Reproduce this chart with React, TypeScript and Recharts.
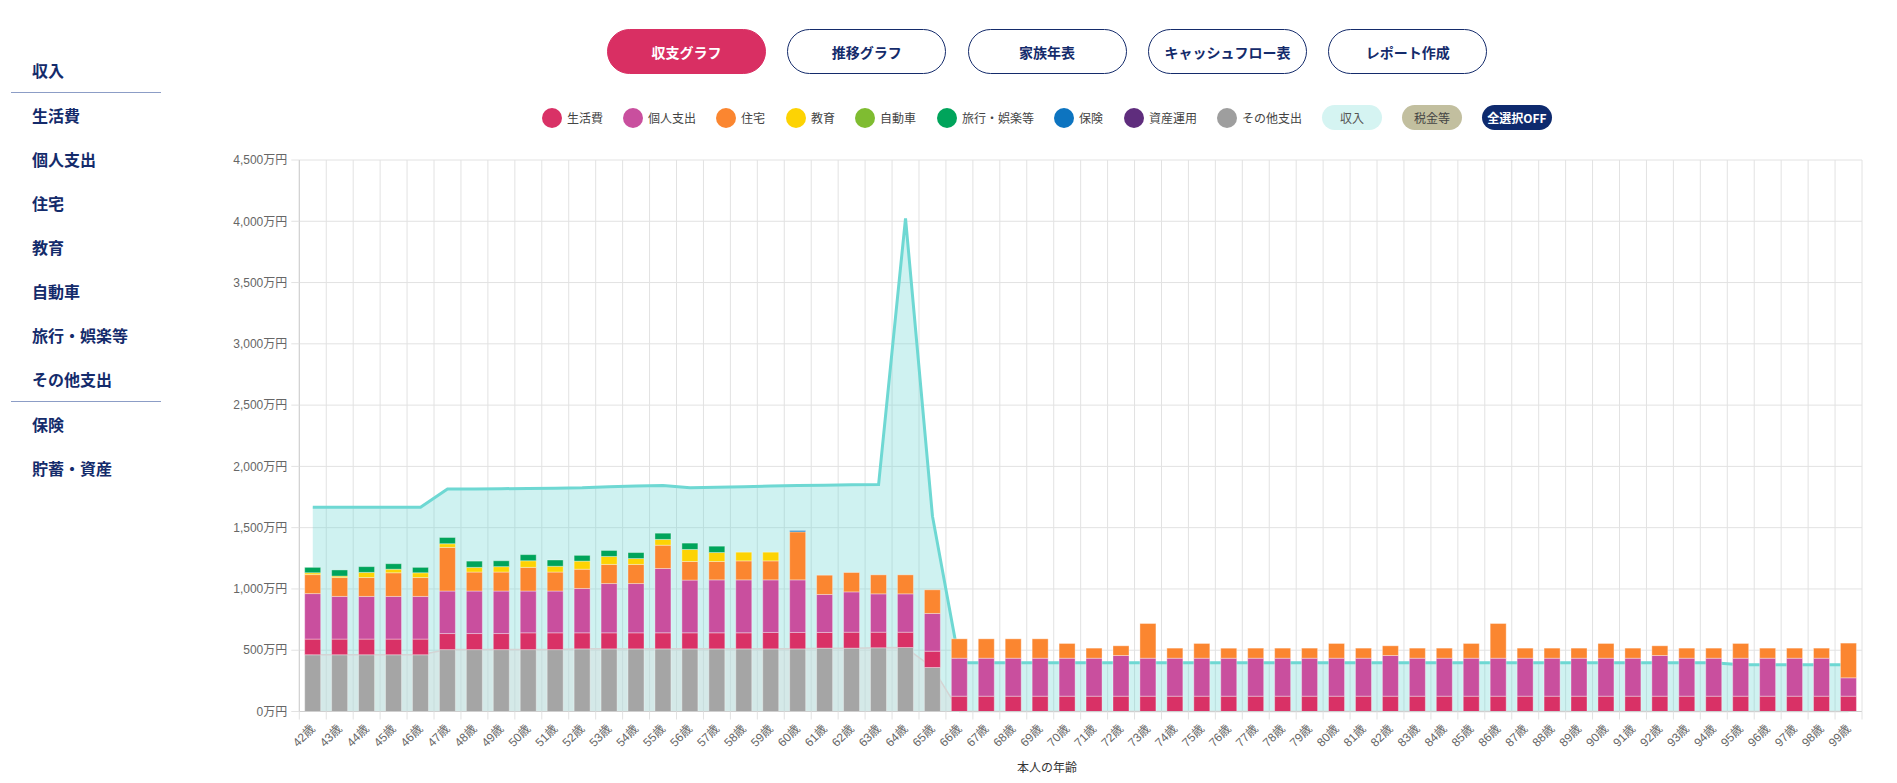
import React from "react";
import { ComposedChart, Bar, Area, XAxis, YAxis, CartesianGrid } from "recharts";

const ages = [
  "42歳", "43歳", "44歳", "45歳", "46歳", "47歳", "48歳", "49歳", "50歳", "51歳",
  "52歳", "53歳", "54歳", "55歳", "56歳", "57歳", "58歳", "59歳", "60歳", "61歳",
  "62歳", "63歳", "64歳", "65歳", "66歳", "67歳", "68歳", "69歳", "70歳", "71歳",
  "72歳", "73歳", "74歳", "75歳", "76歳", "77歳", "78歳", "79歳", "80歳", "81歳",
  "82歳", "83歳", "84歳", "85歳", "86歳", "87歳", "88歳", "89歳", "90歳", "91歳",
  "92歳", "93歳", "94歳", "95歳", "96歳", "97歳", "98歳", "99歳",
];

// 万円
const otherCost = [
  463, 463, 463, 463, 463, 505, 505, 505, 505, 505,
  511, 511, 511, 511, 511, 511, 511, 511, 511, 517,
  517, 520, 522, 359, 0, 0, 0, 0, 0, 0,
  0, 0, 0, 0, 0, 0, 0, 0, 0, 0,
  0, 0, 0, 0, 0, 0, 0, 0, 0, 0,
  0, 0, 0, 0, 0, 0, 0, 0,
];
const living = [
  128, 128, 128, 128, 128, 131, 131, 131, 137, 137,
  131, 131, 131, 131, 131, 131, 131, 134, 134, 128,
  130, 127, 125, 133, 125, 125, 125, 125, 125, 125,
  125, 125, 125, 125, 125, 125, 125, 125, 125, 125,
  125, 125, 125, 125, 125, 125, 125, 125, 125, 125,
  125, 125, 125, 125, 125, 125, 125, 125,
];
const personal = [
  371, 348, 348, 348, 348, 347, 347, 347, 341, 341,
  362, 402, 402, 525, 430, 432, 432, 429, 429, 310,
  329, 313, 313, 308, 310, 310, 310, 310, 310, 310,
  332, 310, 310, 310, 310, 310, 310, 310, 310, 310,
  332, 310, 310, 310, 310, 310, 310, 310, 310, 310,
  332, 310, 310, 310, 310, 310, 310, 150,
];
const housing = [
  155, 154, 154, 193, 154, 356, 155, 155, 193, 155,
  157, 156, 156, 190, 152, 150, 155, 155, 392, 157,
  158, 155, 155, 193, 158, 158, 158, 158, 120, 82,
  79, 283, 82, 120, 82, 82, 82, 82, 120, 82,
  79, 82, 82, 120, 283, 82, 82, 82, 120, 82,
  79, 82, 82, 120, 82, 82, 82, 283,
];
const education = [
  15, 12, 42, 29, 39, 30, 38, 44, 54, 47,
  66, 65, 48, 47, 98, 73, 71, 71, 0, 0,
  0, 0, 0, 0, 0, 0, 0, 0, 0, 0,
  0, 0, 0, 0, 0, 0, 0, 0, 0, 0,
  0, 0, 0, 0, 0, 0, 0, 0, 0, 0,
  0, 0, 0, 0, 0, 0, 0, 0,
];
const car = [
  0, 0, 0, 0, 0, 0, 0, 0, 0, 0,
  0, 0, 0, 0, 0, 0, 0, 0, 0, 0,
  0, 0, 0, 0, 0, 0, 0, 0, 0, 0,
  0, 0, 0, 0, 0, 0, 0, 0, 0, 0,
  0, 0, 0, 0, 0, 0, 0, 0, 0, 0,
  0, 0, 0, 0, 0, 0, 0, 0,
];
const travel = [
  44, 50, 47, 45, 44, 51, 51, 48, 50, 51,
  47, 49, 49, 51, 52, 52, 0, 0, 0, 0,
  0, 0, 0, 0, 0, 0, 0, 0, 0, 0,
  0, 0, 0, 0, 0, 0, 0, 0, 0, 0,
  0, 0, 0, 0, 0, 0, 0, 0, 0, 0,
  0, 0, 0, 0, 0, 0, 0, 0,
];
const insurance = [
  0, 0, 0, 0, 0, 0, 0, 0, 0, 0,
  0, 0, 0, 0, 0, 0, 0, 0, 11, 0,
  0, 0, 0, 0, 0, 0, 0, 0, 0, 0,
  0, 0, 0, 0, 0, 0, 0, 0, 0, 0,
  0, 0, 0, 0, 0, 0, 0, 0, 0, 0,
  0, 0, 0, 0, 0, 0, 0, 0,
];
const investment = [
  0, 0, 0, 0, 0, 0, 0, 0, 0, 0,
  0, 0, 0, 0, 0, 0, 0, 0, 0, 0,
  0, 0, 0, 0, 0, 0, 0, 0, 0, 0,
  0, 0, 0, 0, 0, 0, 0, 0, 0, 0,
  0, 0, 0, 0, 0, 0, 0, 0, 0, 0,
  0, 0, 0, 0, 0, 0, 0, 0,
];
const income = [
  1666, 1666, 1666, 1666, 1666, 1815, 1815, 1818, 1820, 1822,
  1825, 1833, 1839, 1844, 1825, 1830, 1833, 1839, 1844, 1847,
  1850, 1852, 4024, 1594, 397, 397, 397, 397, 397, 397,
  397, 397, 397, 397, 397, 397, 397, 397, 397, 397,
  397, 397, 397, 397, 397, 397, 397, 397, 397, 397,
  397, 397, 397, 381, 381, 381, 381, 381,
];
const tax = [
  463, 463, 463, 463, 463, 505, 505, 505, 505, 505,
  511, 511, 511, 511, 511, 511, 511, 511, 511, 517,
  517, 520, 522, 359, 0, 0, 0, 0, 0, 0,
  0, 0, 0, 0, 0, 0, 0, 0, 0, 0,
  0, 0, 0, 0, 0, 0, 0, 0, 0, 0,
  0, 0, 0, 0, 0, 0, 0, 0,
];

const yTicks = [0, 500, 1000, 1500, 2000, 2500, 3000, 3500, 4000, 4500];

const sideTop = ["収入"];
const sideMiddle = ["生活費", "個人支出", "住宅", "教育", "自動車", "旅行・娯楽等", "その他支出"];
const sideBottom = ["保険", "貯蓄・資産"];

const tabs = ["収支グラフ", "推移グラフ", "家族年表", "キャッシュフロー表", "レポート作成"];

const legendItems = [
  { name: "生活費", color: "#d93166", left: 542 },
  { name: "個人支出", color: "#c94f9e", left: 623 },
  { name: "住宅", color: "#fb8630", left: 716 },
  { name: "教育", color: "#fdd303", left: 786 },
  { name: "自動車", color: "#7fbc31", left: 855 },
  { name: "旅行・娯楽等", color: "#00a45b", left: 937 },
  { name: "保険", color: "#0d74c0", left: 1054 },
  { name: "資産運用", color: "#5f2d7d", left: 1124 },
  { name: "その他支出", color: "#9e9e9e", left: 1217 },
];

const data = ages.map((age, i) => ({
  age,
  otherCost: otherCost[i],
  living: living[i],
  personal: personal[i],
  housing: housing[i],
  education: education[i],
  car: car[i],
  travel: travel[i],
  insurance: insurance[i],
  investment: investment[i],
  income: income[i],
  tax: tax[i],
}));

const CHART_W = 1680;
const CHART_H = 643;
const MARGIN = { top: 20, right: 18, bottom: 16.5, left: 19.3 };
const Y_W = 80;
const X_H = 55;
const band = (CHART_W - MARGIN.left - MARGIN.right - Y_W) / ages.length;

const FONT = '"Liberation Sans", Arial, "Noto Sans CJK JP", sans-serif';
const JP = '"Noto Sans CJK JP", "Noto Sans", sans-serif';
const NAVY = "#142b6b";
const GRID = "#e2e2e2";

function AgeTick(props: any) {
  const { x, y, payload, index } = props;
  const bx = x - band / 2;
  const tx = x + 3;
  const ty = y + 18;
  return (
    <g>
      <line x1={bx} x2={bx} y1={y} y2={y + 8} stroke={GRID} />
      {index === ages.length - 1 && (
        <line x1={x + band / 2} x2={x + band / 2} y1={y} y2={y + 8} stroke={GRID} />
      )}
      <text
        x={tx}
        y={ty}
        transform={`rotate(-45 ${tx} ${ty})`}
        textAnchor="end"
        fontSize={12}
        fill="#666"
        fontFamily={FONT}
      >
        {payload.value}
      </text>
    </g>
  );
}

const segments = [
  { key: "otherCost", color: "#a5a5a5" },
  { key: "living", color: "#d93166" },
  { key: "personal", color: "#c94f9e" },
  { key: "housing", color: "#fb8630" },
  { key: "education", color: "#fdd303" },
  { key: "car", color: "#7fbc31" },
  { key: "travel", color: "#00a45b" },
  { key: "insurance", color: "#0d74c0" },
  { key: "investment", color: "#5f2d7d" },
];

function SideItem({ label }: { label: string }) {
  return (
    <div
      style={{
        height: 44,
        lineHeight: "44px",
        paddingLeft: 21,
        fontSize: 16,
        fontWeight: 700,
        color: NAVY,
        fontFamily: JP,
      }}
    >
      {label}
    </div>
  );
}

const Divider = () => <div style={{ height: 1, width: 150, background: "#8c9dc6" }} />;

export default function App() {
  return (
    <div
      style={{
        position: "absolute",
        left: 0,
        top: 0,
        width: 1897,
        height: 783,
        overflow: "hidden",
        background: "#fff",
        fontFamily: JP,
      }}
    >
      {/* side menu */}
      <div style={{ position: "absolute", left: 11, top: 48, width: 150 }}>
        {sideTop.map((s) => (
          <SideItem key={s} label={s} />
        ))}
        <Divider />
        {sideMiddle.map((s) => (
          <SideItem key={s} label={s} />
        ))}
        <Divider />
        {sideBottom.map((s) => (
          <SideItem key={s} label={s} />
        ))}
      </div>

      {/* tabs */}
      {tabs.map((t, i) => (
        <div
          key={t}
          style={{
            position: "absolute",
            left: 607 + i * 180.3,
            top: 29,
            width: 159,
            height: 45,
            boxSizing: "border-box",
            borderRadius: 23,
            border: i === 0 ? "1.5px solid #d92f63" : `1.5px solid ${NAVY}`,
            background: i === 0 ? "#d92f63" : "#fff",
            color: i === 0 ? "#fff" : NAVY,
            fontSize: 14,
            fontWeight: 700,
            display: "flex",
            alignItems: "center",
            justifyContent: "center",
          }}
        >
          {t}
        </div>
      ))}

      {/* legend */}
      {legendItems.map((l) => (
        <div
          key={l.name}
          style={{
            position: "absolute",
            left: l.left,
            top: 107.7,
            height: 20,
            display: "flex",
            alignItems: "center",
            fontSize: 12,
            color: "#444",
            whiteSpace: "nowrap",
          }}
        >
          <span
            style={{
              width: 20,
              height: 20,
              borderRadius: 10,
              background: l.color,
              marginRight: 5,
              display: "inline-block",
            }}
          />
          {l.name}
        </div>
      ))}
      {[
        { label: "収入", left: 1322, width: 60, bg: "#d5f4f2", color: "#555", bold: false },
        { label: "税金等", left: 1402, width: 60, bg: "#c2bf9f", color: "#444", bold: false },
        { label: "全選択OFF", left: 1482, width: 70, bg: "#0e2a6e", color: "#fff", bold: true },
      ].map((p) => (
        <div
          key={p.label}
          style={{
            position: "absolute",
            left: p.left,
            top: 105,
            width: p.width,
            height: 25,
            borderRadius: 12.5,
            background: p.bg,
            color: p.color,
            fontSize: 12,
            fontWeight: p.bold ? 700 : 400,
            display: "flex",
            alignItems: "center",
            justifyContent: "center",
            whiteSpace: "nowrap",
          }}
        >
          {p.label}
        </div>
      ))}

      {/* chart */}
      <div style={{ position: "absolute", left: 200, top: 140, width: CHART_W, height: CHART_H }}>
        <ComposedChart
          width={CHART_W}
          height={CHART_H}
          data={data}
          margin={MARGIN}
          barCategoryGap="20%"
        >
          <CartesianGrid
            stroke={GRID}
            verticalCoordinatesGenerator={({ offset }: any) =>
              ages.concat([""]).map((_, i) => offset.left + (i * offset.width) / ages.length)
            }
          />
          <XAxis
            dataKey="age"
            interval={0}
            height={X_H}
            tickLine={false}
            tickSize={0}
            tickMargin={0}
            axisLine={{ stroke: "#cfcfcf" }}
            tick={<AgeTick />}
          />
          <YAxis
            width={Y_W}
            domain={[0, 4500]}
            ticks={yTicks}
            tickFormatter={(v: number) => `${v.toLocaleString("en-US")}万円`}
            tick={{ fontSize: 12, fill: "#666", fontFamily: FONT }}
            tickLine={{ stroke: GRID }}
            tickSize={8}
            tickMargin={4}
            axisLine={{ stroke: "#cfcfcf" }}
          />
          <Area
            type="linear"
            dataKey="income"
            stroke="#6ed8d3"
            strokeWidth={3}
            fill="#6ed8d3"
            fillOpacity={0.33}
            dot={false}
            activeDot={false}
            isAnimationActive={false}
          />
          <Area
            type="linear"
            dataKey="tax"
            stroke="#d4d4d4"
            strokeWidth={1.5}
            fill="#dcdcdc"
            fillOpacity={0.4}
            dot={false}
            activeDot={false}
            isAnimationActive={false}
          />
          {segments.map((s) => (
            <Bar
              key={s.key}
              dataKey={s.key}
              stackId="exp"
              fill={s.color}
              stroke="rgba(255,255,255,0.35)"
              strokeWidth={1}
              isAnimationActive={false}
            />
          ))}
        </ComposedChart>
      </div>

      <div
        style={{
          position: "absolute",
          left: 947,
          width: 200,
          top: 758,
          textAlign: "center",
          fontSize: 12,
          color: "#333",
        }}
      >
        本人の年齢
      </div>
    </div>
  );
}
